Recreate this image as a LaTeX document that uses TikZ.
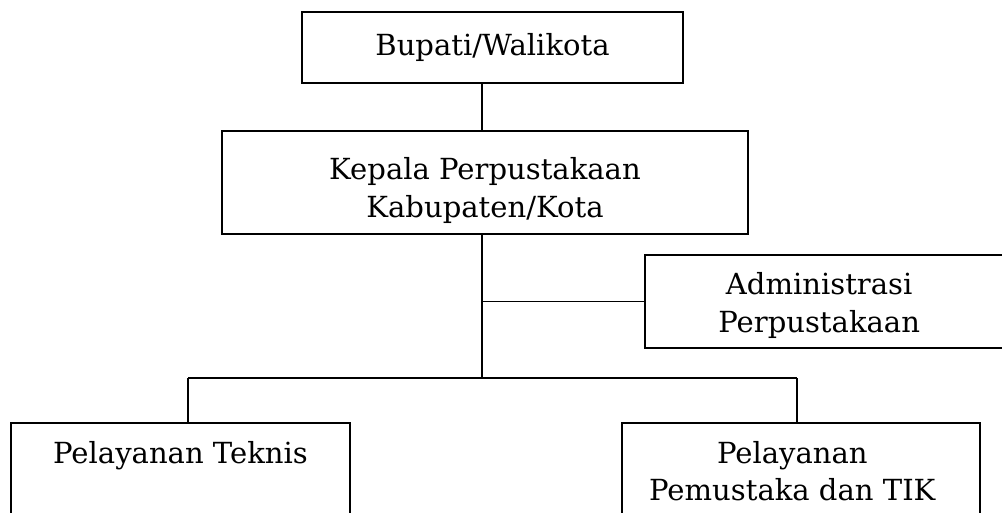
\documentclass[tikz,border=0pt]{standalone}
\usepackage{fontspec}
\setmainfont{DejaVu Serif}
\begin{document}
\begin{tikzpicture}[x=0.75pt,y=-0.75pt,
  box/.style={draw=black, line width=1.8pt, rectangle, align=center, inner sep=0pt,
    font=\fontsize{21.8}{28}\selectfont},
  conn/.style={draw=black, line width=1pt},
  busline/.style={draw=black, line width=1.5pt}]
\clip (0,0) rectangle (1002,512);
\fill[white] (0,0) rectangle (1002,512);
\node[box, minimum width=285.75pt, minimum height=53.25pt] (top) at (492.5,47.5) {Bupati/Walikota};
\node[box, minimum width=394.5pt, minimum height=77.25pt] (kep) at (485,182.5) {\rule{0pt}{28.5pt}Kepala Perpustakaan\\Kabupaten/Kota};
\node[box, minimum width=275.25pt, minimum height=69.75pt] (adm) at (828.5,301.5) {\rule{0pt}{22.5pt}Administrasi\hspace*{14pt}\\Perpustakaan\hspace*{14pt}};
\node[box, minimum width=254.25pt, minimum height=72pt] (tek) at (180.5,471) {Pelayanan Teknis\\\mbox{}};
\node[box, minimum width=268.5pt, minimum height=72pt] (pem) at (801,471) {Pelayanan\hspace*{13pt}\\Pemustaka dan TIK\hspace*{13pt}};
\coordinate (sp) at (482,378);
\coordinate (bl) at (188,378);
\coordinate (br) at (797,378);
\draw[conn] (sp |- top.south) -- (sp |- kep.north);
\draw[conn] (sp |- kep.south) -- (sp);
\draw[conn] (sp |- adm.west) -- (adm.west);
\draw[busline] (bl) -- (br);
\draw[conn] (bl) -- (bl |- tek.north);
\draw[conn] (br) -- (br |- pem.north);
\end{tikzpicture}
\end{document}
